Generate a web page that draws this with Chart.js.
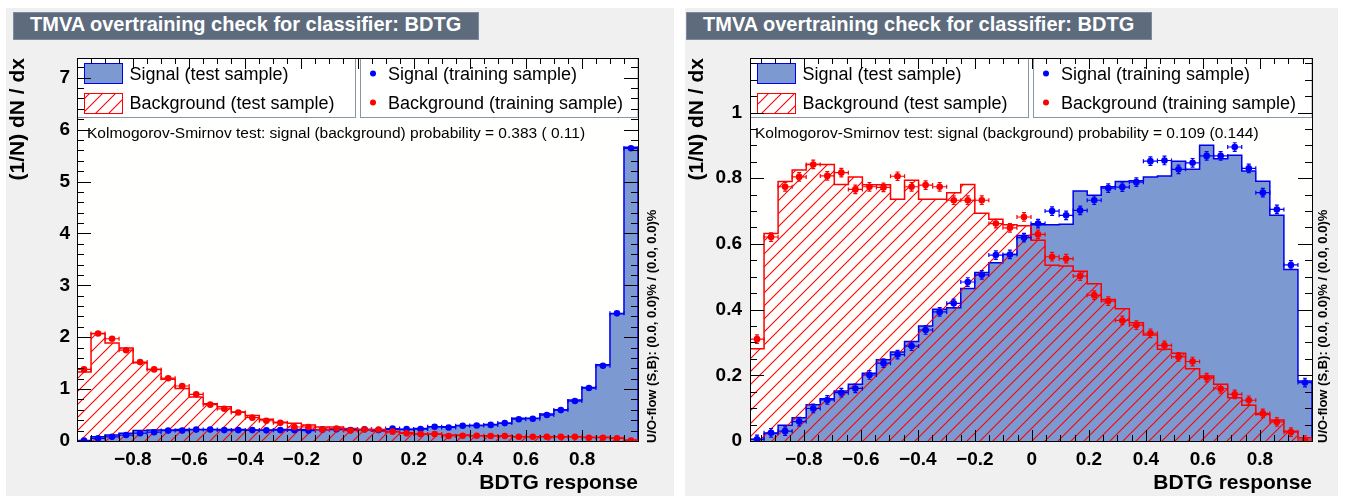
<!DOCTYPE html>
<html>
<head>
<meta charset="utf-8">
<title>TMVA overtraining check</title>
<script src="https://cdn.jsdelivr.net/npm/chart.js@4.4.1/dist/chart.umd.min.js"></script>
<style>
  body { margin: 0; width: 1348px; height: 498px; background: #fff; position: relative; overflow: hidden; }
  .pad { position: absolute; top: 8px; height: 488px; background: #f0f0f0; }
  .pad canvas { position: absolute; left: 0; top: 0; }
  .title { position: absolute; top: 12px; width: 466px; height: 28px; box-sizing: border-box;
           background: #5d6b7d; border: 1px solid #7d8b9d; color: #fff;
           font: bold 20px 'Liberation Sans', Arial, sans-serif; line-height: 22px;
           padding-left: 16px; white-space: nowrap; }
</style>
</head>
<body>
<div class="pad" style="left:6px;width:668px"><canvas id="pad_left" width="668" height="488"></canvas></div>
<div class="pad" style="left:685px;width:653px"><canvas id="pad_right" width="653" height="488"></canvas></div>
<div class="title" style="left:13px">TMVA overtraining check for classifier: BDTG</div>
<div class="title" style="left:686px">TMVA overtraining check for classifier: BDTG</div>
<script>
const nBins = 40
const xTicks = [-0.8, -0.6, -0.4, -0.2, 0, 0.2, 0.4, 0.6, 0.8]
const leftYTicks = [0, 1, 2, 3, 4, 5, 6, 7]
const rightYTicks = [0, 0.2, 0.4, 0.6, 0.8, 1]

// left pad
const leftRange = [-0.999, 0.999]
const leftSigTest = [0.01, 0.08, 0.115, 0.15, 0.20, 0.21, 0.21, 0.22, 0.22, 0.22,
    0.22, 0.22, 0.21, 0.21, 0.22, 0.22, 0.22, 0.22, 0.22, 0.22,
    0.22, 0.224, 0.224, 0.224, 0.24, 0.275, 0.275, 0.30, 0.30, 0.32,
    0.34, 0.44, 0.44, 0.52, 0.60, 0.79, 1.03, 1.47, 2.45, 5.66]
const leftBkgTest = [1.33, 2.07, 1.89, 1.79, 1.51, 1.38, 1.19, 1.01, 0.85, 0.72,
    0.66, 0.56, 0.49, 0.42, 0.36, 0.34, 0.31, 0.27, 0.27, 0.24,
    0.21, 0.19, 0.18, 0.16, 0.134, 0.134, 0.115, 0.115, 0.10, 0.10,
    0.096, 0.083, 0.083, 0.083, 0.083, 0.083, 0.07, 0.07, 0.058, 0.02]
const leftSigTrain = [0.01, 0.05, 0.08, 0.115, 0.15, 0.17, 0.20, 0.20, 0.22, 0.22,
    0.21, 0.21, 0.21, 0.205, 0.21, 0.21, 0.20, 0.22, 0.225, 0.21,
    0.225, 0.21, 0.24, 0.23, 0.23, 0.275, 0.26, 0.295, 0.30, 0.31,
    0.345, 0.42, 0.43, 0.50, 0.595, 0.77, 1.02, 1.45, 2.46, 5.64]
const leftBkgTrain = [1.38, 2.07, 1.97, 1.75, 1.52, 1.38, 1.21, 1.06, 0.90, 0.70,
    0.62, 0.55, 0.45, 0.39, 0.35, 0.27, 0.27, 0.22, 0.24, 0.20,
    0.22, 0.22, 0.18, 0.147, 0.134, 0.134, 0.096, 0.102, 0.102, 0.096,
    0.096, 0.083, 0.083, 0.083, 0.083, 0.083, 0.064, 0.064, 0.051, 0.01]
const leftKS = 'Kolmogorov-Smirnov test: signal (background) probability = 0.383 ( 0.11)'

// right pad
const rightRange = [-0.989, 0.983]
const rightSigTest = [0.005, 0.023, 0.048, 0.071, 0.11, 0.129, 0.152, 0.173, 0.206, 0.247,
    0.271, 0.303, 0.35, 0.401, 0.406, 0.464, 0.513, 0.543, 0.568, 0.626,
    0.658, 0.658, 0.66, 0.761, 0.748, 0.774, 0.79, 0.792, 0.804, 0.807,
    0.852, 0.827, 0.900, 0.859, 0.87, 0.822, 0.791, 0.687, 0.522, 0.183]
const rightBkgTest = [0.281, 0.632, 0.79, 0.825, 0.842, 0.842, 0.781, 0.804, 0.78, 0.78,
    0.736, 0.794, 0.736, 0.736, 0.756, 0.781, 0.693, 0.675, 0.658, 0.655,
    0.611, 0.535, 0.533, 0.517, 0.479, 0.431, 0.403, 0.360, 0.323, 0.279,
    0.267, 0.220, 0.198, 0.173, 0.132, 0.109, 0.081, 0.064, 0.030, 0.010]
const rightSigTrain = [0.005, 0.025, 0.03, 0.059, 0.099, 0.125, 0.147, 0.16, 0.201, 0.237,
    0.263, 0.289, 0.338, 0.393, 0.419, 0.484, 0.506, 0.566, 0.568, 0.619,
    0.662, 0.70, 0.687, 0.702, 0.733, 0.770, 0.773, 0.788, 0.852, 0.854,
    0.827, 0.847, 0.868, 0.868, 0.895, 0.830, 0.756, 0.705, 0.536, 0.178]
const rightBkgTrain = [0.31, 0.621, 0.774, 0.804, 0.842, 0.807, 0.817, 0.766, 0.774, 0.772,
    0.806, 0.774, 0.779, 0.774, 0.733, 0.733, 0.733, 0.662, 0.649, 0.682,
    0.629, 0.561, 0.555, 0.502, 0.444, 0.426, 0.367, 0.353, 0.328, 0.291,
    0.256, 0.242, 0.193, 0.159, 0.142, 0.124, 0.084, 0.058, 0.027, 0.003]
const rightKS = 'Kolmogorov-Smirnov test: signal (background) probability = 0.109 (0.144)'

const uoFlow = 'U/O-flow (S,B): (0.0, 0.0)% / (0.0, 0.0)%'
const legendLabels = ['Signal (test sample)', 'Background (test sample)',
    'Signal (training sample)', 'Background (training sample)']

const FONT = '"Liberation Sans", Arial, sans-serif'
const sigFill = '#7d99d1', sigLine = '#0000ee', bkgLine = '#ff0000'
const sigDot = '#0000ff', bkgDot = '#ff0000'

function hatchPattern(ctx) {
    const s = 13
    const c = document.createElement('canvas')
    c.width = s
    c.height = s
    const g = c.getContext('2d')
    g.strokeStyle = bkgLine
    g.lineWidth = 1.1
    g.beginPath()
    g.moveTo(0, s); g.lineTo(s, 0)
    g.moveTo(-2, 2); g.lineTo(2, -2)
    g.moveTo(s - 2, s + 2); g.lineTo(s + 2, s - 2)
    g.stroke()
    return ctx.createPattern(c, 'repeat')
}

const fmt = v => {
    const r = Math.round(v * 10) / 10
    if (r === 0) return '0'
    return (r < 0 ? '\u2212' : '') + Math.abs(r)
}

function makePad(id, p) {
    const canvas = document.getElementById(id)
    const hatch = hatchPattern(canvas.getContext('2d'))
    const w = (p.range[1] - p.range[0]) / nBins
    const edges = []
    for (let i = 0; i <= nBins; i++) edges.push(p.range[0] + i * w)
    const centers = edges.slice(0, nBins).map(e => e + w / 2)

    const histPts = vals => {
        const pts = [{ x: edges[0], y: 0 }]
        vals.forEach((v, i) => pts.push({ x: edges[i], y: v }))
        pts.push({ x: edges[nBins], y: vals[nBins - 1] })
        pts.push({ x: edges[nBins], y: 0 })
        return pts
    }
    const dotPts = vals => vals.map((v, i) => ({ x: centers[i], y: v }))

    const decor = {
        id: 'decor',
        beforeDraw(chart) {
            const a = chart.chartArea
            const ctx = chart.ctx
            ctx.save()
            ctx.fillStyle = '#fffffd'
            ctx.fillRect(a.left, a.top, a.right - a.left, a.bottom - a.top)
            ctx.restore()
        },
        beforeDatasetDraw(chart, args) {
            const ds = chart.data.datasets[args.index]
            if (!ds.err) return
            const ctx = chart.ctx, a = chart.chartArea
            const xs = chart.scales.x, ys = chart.scales.y
            ctx.save()
            ctx.beginPath()
            ctx.rect(a.left, a.top, a.right - a.left, a.bottom - a.top)
            ctx.clip()
            ctx.strokeStyle = ds.pointBackgroundColor
            ctx.lineWidth = 1.2
            ctx.beginPath()
            args.meta.data.forEach((pt, k) => {
                const d = ds.data[k]
                const y1 = ys.getPixelForValue(d.y + ds.err)
                const y2 = ys.getPixelForValue(Math.max(d.y - ds.err, 0))
                const x1 = xs.getPixelForValue(d.x - w / 2)
                const x2 = xs.getPixelForValue(d.x + w / 2)
                ctx.moveTo(pt.x, y1); ctx.lineTo(pt.x, y2)
                ctx.moveTo(x1, pt.y); ctx.lineTo(x2, pt.y)
                ctx.moveTo(pt.x - 2, y1); ctx.lineTo(pt.x + 2, y1)
                ctx.moveTo(pt.x - 2, y2); ctx.lineTo(pt.x + 2, y2)
                ctx.moveTo(x1, pt.y - 2); ctx.lineTo(x1, pt.y + 2)
                ctx.moveTo(x2, pt.y - 2); ctx.lineTo(x2, pt.y + 2)
            })
            ctx.stroke()
            ctx.restore()
        },
        afterDatasetsDraw(chart) {
            const ctx = chart.ctx, a = chart.chartArea
            const xs = chart.scales.x, ys = chart.scales.y
            const L = a.left, R = a.right, T = a.top, B = a.bottom
            const mid = (L + R) / 2
            ctx.save()

            // legend boxes
            ctx.lineWidth = 1
            ctx.strokeStyle = '#8a96a6'
            ctx.fillStyle = '#ffffff'
            const b1 = [Math.round(L) + 0.5, Math.round(T) + 0.5, Math.round(mid - 3 - L), 59]
            const b2x = Math.round(mid + 2) + 0.5
            const b2 = [b2x, Math.round(T) + 0.5, Math.round(R) - b2x, 59]
            ctx.fillRect(...b1); ctx.strokeRect(...b1)
            ctx.fillRect(...b2); ctx.strokeRect(...b2)

            const sx = Math.round(L + 7) + 0.5
            ctx.fillStyle = sigFill
            ctx.fillRect(sx, T + 5.5, 38, 20)
            ctx.strokeStyle = sigLine
            ctx.strokeRect(sx, T + 5.5, 38, 20)
            ctx.fillStyle = hatch
            ctx.fillRect(sx, T + 35.5, 38, 20)
            ctx.strokeStyle = bkgLine
            ctx.strokeRect(sx, T + 35.5, 38, 20)

            ctx.fillStyle = '#000'
            ctx.font = '18px ' + FONT
            ctx.textBaseline = 'alphabetic'
            ctx.fillText(legendLabels[0], L + 52.5, T + 22)
            ctx.fillText(legendLabels[1], L + 52.5, T + 50.5)
            ctx.fillText(legendLabels[2], b2x + 27.5, T + 22)
            ctx.fillText(legendLabels[3], b2x + 27.5, T + 50.5)
            ctx.fillStyle = sigDot
            ctx.beginPath(); ctx.arc(b2x + 12.5, T + 15.5, 3, 0, 2 * Math.PI); ctx.fill()
            ctx.fillStyle = bkgDot
            ctx.beginPath(); ctx.arc(b2x + 12.5, T + 44.5, 3, 0, 2 * Math.PI); ctx.fill()

            // KS test text
            ctx.fillStyle = '#000'
            ctx.font = '15.5px ' + FONT
            ctx.fillText(p.ks, L + p.ksX, T + 80)

            // tick marks on all four sides, pointing inwards
            ctx.strokeStyle = '#000'
            ctx.lineWidth = 1
            ctx.beginPath()
            const i0 = Math.ceil(p.range[0] / 0.05 - 1e-6), i1 = Math.floor(p.range[1] / 0.05 + 1e-6)
            for (let i = i0; i <= i1; i++) {
                const len = i % 4 === 0 ? 11 : 6
                const px = Math.round(xs.getPixelForValue(i * 0.05)) + 0.5
                ctx.moveTo(px, B); ctx.lineTo(px, B - len)
                ctx.moveTo(px, T); ctx.lineTo(px, T + len)
            }
            const nMinor = Math.floor(p.ymax / p.yMinor + 1e-6)
            const per = Math.round(p.yMajor / p.yMinor)
            for (let i = 0; i <= nMinor; i++) {
                const len = i % per === 0 ? 14 : 7
                const py = Math.round(ys.getPixelForValue(i * p.yMinor)) + 0.5
                ctx.moveTo(L, py); ctx.lineTo(L + len, py)
                ctx.moveTo(R, py); ctx.lineTo(R - len, py)
            }
            ctx.stroke()
            ctx.strokeRect(Math.round(L) + 0.5, Math.round(T) + 0.5, Math.round(R - L), Math.round(B - T))

            // under/overflow note
            ctx.translate(R + p.uoX, B + 2)
            ctx.rotate(-Math.PI / 2)
            ctx.font = 'bold 13px ' + FONT
            ctx.textAlign = 'left'
            ctx.textBaseline = 'middle'
            ctx.fillStyle = '#000'
            ctx.fillText(uoFlow, 0, 0)
            ctx.restore()
        }
    }

    const tickFont = { family: FONT, size: 19, weight: 'bold' }
    const titleFont = { family: FONT, size: 21, weight: 'bold' }

    return new Chart(canvas, {
        type: 'line',
        data: {
            datasets: [
                {
                    data: dotPts(p.bkgTrain), showLine: false, order: 0, err: p.err,
                    pointRadius: 3.3, pointBorderWidth: 0, pointBackgroundColor: bkgDot
                },
                {
                    data: dotPts(p.sigTrain), showLine: false, order: 1, err: p.err,
                    pointRadius: 3.3, pointBorderWidth: 0, pointBackgroundColor: sigDot
                },
                {
                    data: histPts(p.bkgTest), order: 2, stepped: 'before', fill: 'origin',
                    backgroundColor: hatch, borderColor: bkgLine, borderWidth: 1.5, pointRadius: 0
                },
                {
                    data: histPts(p.sigTest), order: 3, stepped: 'before', fill: 'origin',
                    backgroundColor: sigFill, borderColor: sigLine, borderWidth: 1.5, pointRadius: 0
                }
            ]
        },
        options: {
            responsive: false,
            animation: false,
            devicePixelRatio: 1,
            layout: { padding: { left: 0, right: p.padRight, top: 50, bottom: 0 } },
            plugins: { legend: { display: false }, tooltip: { enabled: false } },
            scales: {
                x: {
                    type: 'linear', min: p.range[0], max: p.range[1],
                    grid: { display: false, drawTicks: false }, border: { display: false },
                    ticks: { font: tickFont, color: '#000', padding: 7, maxRotation: 0, autoSkip: false, callback: fmt },
                    afterBuildTicks: s => { s.ticks = xTicks.map(v => ({ value: v })) },
                    afterFit: s => { s.height = 55 },
                    title: { display: true, text: 'BDTG response', align: 'end', font: titleFont, color: '#000', padding: 0 }
                },
                y: {
                    min: 0, max: p.ymax,
                    grid: { display: false, drawTicks: false }, border: { display: false },
                    ticks: { font: tickFont, color: '#000', padding: p.yPad, autoSkip: false, callback: fmt },
                    afterBuildTicks: s => { s.ticks = p.yTicks.map(v => ({ value: v })) },
                    afterFit: s => { s.width = p.left },
                    title: { display: true, text: '(1/N) dN / dx', align: 'end', font: titleFont, color: '#000', padding: { top: 0, bottom: 0 } }
                }
            }
        },
        plugins: [decor]
    })
}

makePad('pad_left', {
    range: leftRange, sigTest: leftSigTest, bkgTest: leftBkgTest,
    sigTrain: leftSigTrain, bkgTrain: leftBkgTrain, ks: leftKS,
    yTicks: leftYTicks, ymax: 7.38, yMajor: 1, yMinor: 0.2, err: 0.03,
    left: 71, padRight: 36, yPad: 7, ksX: 10, uoX: 14
})

makePad('pad_right', {
    range: rightRange, sigTest: rightSigTest, bkgTest: rightBkgTest,
    sigTrain: rightSigTrain, bkgTrain: rightBkgTrain, ks: rightKS,
    yTicks: rightYTicks, ymax: 1.166, yMajor: 0.2, yMinor: 0.05, err: 0.013,
    left: 65, padRight: 26, yPad: 8, ksX: 5, uoX: 11
})
</script>
</body>
</html>
